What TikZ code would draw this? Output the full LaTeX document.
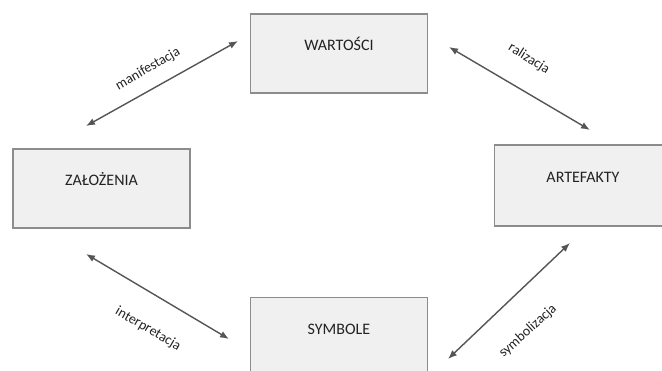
\documentclass[tikz,border=0pt]{standalone}
\usepackage{fontspec}
\setmainfont{Carlito}
\usetikzlibrary{arrows.meta}

\definecolor{boxfill}{HTML}{F0F0F0}
\definecolor{boxline}{HTML}{8C8C8C}
\definecolor{arrowgray}{HTML}{555555}
\definecolor{textgray}{HTML}{222222}

\tikzset{
  box/.style={draw=boxline, line width=1.3pt, fill=boxfill, minimum width=177pt,
    minimum height=79pt, inner sep=0pt, text height=11pt, text depth=16pt,
    text=textgray, font=\fontsize{16}{18}\selectfont},
  link/.style={draw=arrowgray, line width=1.4pt,
    {Latex[length=9pt,width=7pt]}-{Latex[length=9pt,width=7pt]}},
  tag/.style={font=\fontsize{14}{16}\selectfont, inner sep=0pt, text=textgray}
}

\begin{document}
\begin{tikzpicture}[x=1pt,y=-1pt]
\useasboundingbox (0,0) rectangle (662,371);
\clip (0,0) rectangle (662,371);
% boxes
\node[box] (wart) at (339,53.5) {WARTOŚCI};
\node[box] (zal) at (101.5,188.5) {ZAŁOŻENIA};
\node[box, minimum height=81pt] (art) at (583,185.5) {ARTEFAKTY};
\node[box] (sym) at (339,337) {SYMBOLE};
% arrow ends
\coordinate (m1) at (86,126);
\coordinate (m2) at (238,41);
\coordinate (r1) at (449,47);
\coordinate (r2) at (590,130);
\coordinate (i1) at (86,254);
\coordinate (i2) at (229,339);
\coordinate (s1) at (570,243);
\coordinate (s2) at (448,359);
\draw[link] (m1) -- (m2);
\draw[link] (r1) -- (r2);
\draw[link] (i1) -- (i2);
\draw[link] (s1) -- (s2);
% labels
\node[tag, rotate=30] (lm) at (148,69) {manifestacja};
\node[tag, rotate=-32] (lr) at (529,59) {ralizacja};
\node[tag, rotate=-30] (li) at (148,329) {interpretacja};
\node[tag, rotate=42] (ls) at (528,331) {symbolizacja};
\end{tikzpicture}
\end{document}
